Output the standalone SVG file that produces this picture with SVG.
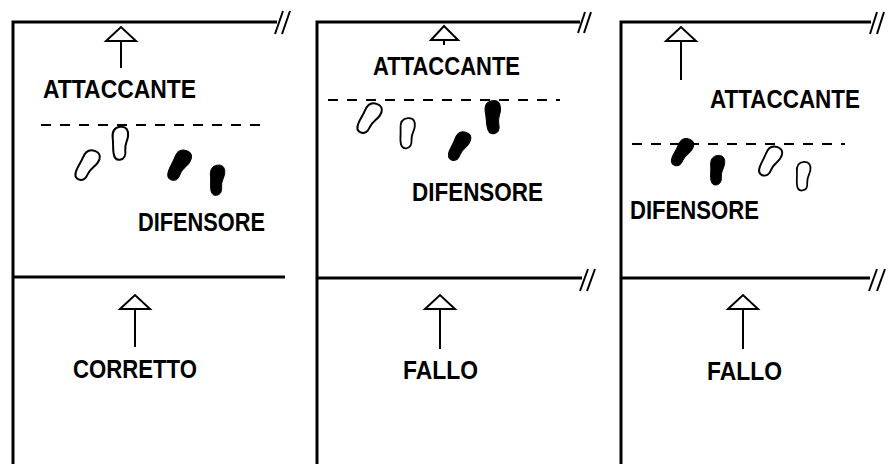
<svg xmlns="http://www.w3.org/2000/svg" width="888" height="464" viewBox="0 0 888 464">
<style>
.frame{fill:none;stroke:#000;stroke-width:3}
.slash{fill:none;stroke:#000;stroke-width:2}
.dash{fill:none;stroke:#000;stroke-width:2;stroke-dasharray:10 9}
.arr{fill:#fff;stroke:#000;stroke-width:2;stroke-linejoin:miter}
.lbl{font-family:"Liberation Sans",Arial,sans-serif;font-weight:bold;font-size:25px;fill:#000}
.fo{fill:#fff;stroke:#000;stroke-width:2;vector-effect:non-scaling-stroke}
.ff{fill:#000;stroke:#000;stroke-width:1;vector-effect:non-scaling-stroke}
</style>
<defs>
<path id="foot" d="M2.4,-16 C9,-16 10.2,-11 9,-6 C7.8,-1 4.2,2 4.2,8 C4.2,13 1.8,16.5 -2.4,16.5 C-6.6,16.5 -7.8,13 -7.8,9 C-7.8,3 -6.6,0 -6.6,-5 C-6.6,-12 -3.6,-16 2.4,-16 Z"/>
</defs>
<rect width="888" height="464" fill="#fff"/>
<g id="connectors">
<path class="frame" d="M13,464 V22 H277"/>
<path class="frame" d="M13,277 H285"/>
<path class="slash" d="M275,34 L283,11 M282,34 L290,11"/>
<path class="frame" d="M317,464 V22 H580"/>
<path class="frame" d="M317,278 H582"/>
<path class="slash" d="M578,33 L585,12 M584,33 L591,12"/>
<path class="slash" d="M580,291 L588,269 M587,291 L595,269"/>
<path class="frame" d="M621,464 V22 H871"/>
<path class="frame" d="M621,278 H870"/>
<path class="slash" d="M870,34 L877,12 M877,34 L884,12"/>
<path class="slash" d="M869,291 L877,269 M877,291 L885,269"/>
<path class="dash" d="M41,125 H263"/>
<path class="dash" d="M328,100 H560"/>
<path class="dash" d="M632,144 H845"/>
<path class="arr" d="M121,68 V41 M106,41 L121,27 L136,41 Z"/>
<path class="arr" d="M135,347 V309 M120,309 L135,295 L150,309 Z"/>
<path class="arr" d="M444,45 V40 M431,40 L444,26 L458,40 Z"/>
<path class="arr" d="M440,349 V309 M425,309 L440,295 L455,309 Z"/>
<path class="arr" d="M681,80 V41 M666,41 L681,27 L696,41 Z"/>
<path class="arr" d="M743,349 V309 M728,309 L743,295 L758,309 Z"/>
</g>
<g id="panel1">
<text class="lbl" x="43" y="98" textLength="153" lengthAdjust="spacingAndGlyphs">ATTACCANTE</text>
<text class="lbl" x="138" y="231" textLength="127" lengthAdjust="spacingAndGlyphs">DIFENSORE</text>
<text class="lbl" x="73" y="378" textLength="124" lengthAdjust="spacingAndGlyphs">CORRETTO</text>
<use href="#foot" class="fo" transform="translate(87,165) rotate(22)"/>
<use href="#foot" class="fo" transform="translate(120,143) rotate(-8)"/>
<use href="#foot" class="ff" transform="translate(179,165) rotate(20)"/>
<use href="#foot" class="ff" transform="translate(217,180) rotate(-6) scale(0.92)"/>
</g>
<g id="panel2">
<text class="lbl" x="373" y="75" textLength="147" lengthAdjust="spacingAndGlyphs">ATTACCANTE</text>
<text class="lbl" x="412" y="201" textLength="131" lengthAdjust="spacingAndGlyphs">DIFENSORE</text>
<text class="lbl" x="403" y="379" textLength="75" lengthAdjust="spacingAndGlyphs">FALLO</text>
<use href="#foot" class="fo" transform="translate(369,118) rotate(22)"/>
<use href="#foot" class="fo" transform="translate(407,133) rotate(-5) scale(0.92)"/>
<use href="#foot" class="ff" transform="translate(459,146) rotate(20) scale(0.95)"/>
<use href="#foot" class="ff" transform="translate(493,117) rotate(-12)"/>
</g>
<g id="panel3">
<text class="lbl" x="710" y="108" textLength="150" lengthAdjust="spacingAndGlyphs">ATTACCANTE</text>
<text class="lbl" x="630" y="219" textLength="129" lengthAdjust="spacingAndGlyphs">DIFENSORE</text>
<text class="lbl" x="707" y="380" textLength="75" lengthAdjust="spacingAndGlyphs">FALLO</text>
<use href="#foot" class="ff" transform="translate(682,152) rotate(22) scale(0.92)"/>
<use href="#foot" class="ff" transform="translate(717,170) rotate(-5) scale(0.9)"/>
<use href="#foot" class="fo" transform="translate(770,161) rotate(20) scale(0.97)"/>
<use href="#foot" class="fo" transform="translate(803,176) rotate(-5) scale(0.87)"/>
</g>
</svg>
